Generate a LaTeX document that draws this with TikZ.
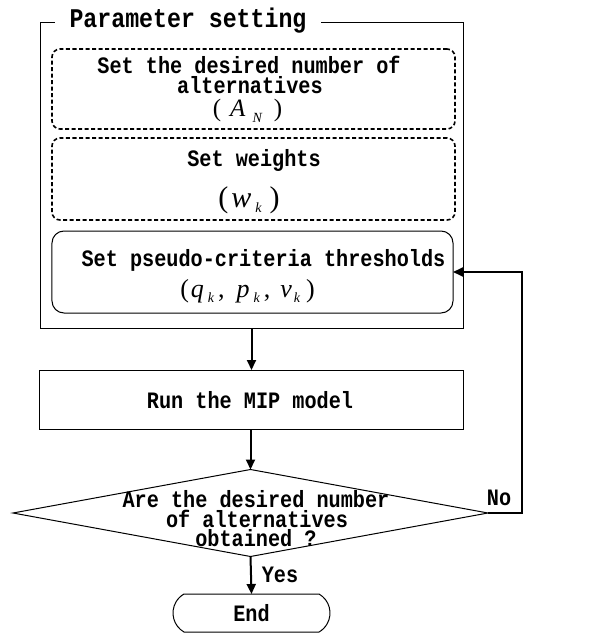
\documentclass[tikz,border=0pt]{standalone}
\usepackage{fontspec}
\usetikzlibrary{shapes.geometric,shapes.misc,arrows.meta}
\newfontfamily\lblfont{Liberation Mono}[FakeStretch=0.86]
\newfontfamily\tmsfont{Liberation Serif}
% lowered italic subscript: #1 = drop, #2 = letter
\newcommand\subi[2]{\raisebox{-#1}{\fontsize{14bp}{14bp}\selectfont\itshape #2}}
\begin{document}
\begin{tikzpicture}[x=1bp,y=-1bp,
  txt/.style={font=\lblfont\bfseries\fontsize{23.5bp}{20bp}\selectfont, inner sep=0pt, outer sep=0pt},
  ln/.style={txt, anchor=base},
  mth/.style={anchor=base, inner sep=0pt, outer sep=0pt, font=\tmsfont},
  frame/.style={draw, line width=1bp, inner sep=0pt, outer sep=0pt},
  dbox/.style={frame, line width=1.6bp, dash pattern=on 4bp off 2.5bp, rounded corners=8bp},
  sbox/.style={frame, rounded corners=12bp},
  pbox/.style={txt, draw, line width=1bp},
  decision/.style={diamond, draw, line width=1bp, inner sep=0pt, outer sep=0pt},
  terminal/.style={txt, rounded rectangle, rounded rectangle arc length=120, draw, line width=1bp},
  arr/.style={line width=2bp, -{Triangle[length=10bp,width=9bp]}},
  ]
\useasboundingbox (0,0) rectangle (593,633);

% parameter-setting group with its title
\node[frame, minimum width=422bp, minimum height=305bp] (param) at (252,175.5) {};
\node[ln, fill=white, inner xsep=15bp, inner ysep=3bp,
      font=\lblfont\bfseries\fontsize{27bp}{24bp}\selectfont] (ptitle) at (188,28) {Parameter setting};

% desired number of alternatives
\node[dbox, minimum width=403bp, minimum height=80bp] (setA) at (253.5,89) {};
\node[ln] (setA1) at (249,74) {Set the desired number of};
\node[ln] (setA2) at (250,94) {alternatives};
\node[mth] (setA3) at (247.5,117)
  {\fontsize{25bp}{25bp}\selectfont(\hspace{9bp}\textit{A}\hspace{7bp}\subi{6bp}{N}\hspace{12bp})};

% weights
\node[dbox, minimum width=403bp, minimum height=82bp] (setW) at (253.5,179) {};
\node[ln] (setW1) at (254,167) {Set weights};
\node[mth] (setW2) at (249,207)
  {\fontsize{30bp}{30bp}\selectfont(\hspace{3bp}\textit{w}\hspace{4bp}\subi{5bp}{k}\hspace{8bp})};

% pseudo-criteria thresholds
\node[sbox, minimum width=401bp, minimum height=82bp] (setT) at (252.5,272) {};
\node[ln] (setT1) at (263.5,266) {Set pseudo-criteria thresholds};
\node[mth] (setT2) at (247.5,297)
  {\fontsize{26bp}{26bp}\selectfont(\hspace{2bp}\textit{q}\hspace{4bp}\subi{5bp}{k}\hspace{4bp},\hspace{12bp}\textit{p}\hspace{4bp}\subi{5bp}{k}\hspace{4bp},\hspace{10bp}\textit{v}\hspace{2bp}\subi{5bp}{k}\hspace{6bp})};

% solver step
\node[frame, minimum width=423bp, minimum height=59bp] (run) at (251.5,399.5) {};
\node[ln] (runtext) at (250,408) {Run the MIP model};

% decision
\node[decision, minimum width=475bp, minimum height=87bp] (dec) at (250.5,513) {};
\node[ln] (dec1) at (256,507) {Are the desired number};
\node[ln] (dec2) at (257,527) {of alternatives};
\node[ln] (dec3) at (256,546) {obtained ?};

% end of the procedure
\node[terminal, minimum width=157bp, minimum height=38bp] (finish) at (251.5,613) {End};

\coordinate (loopx) at (522,0);

% connectors
\draw[arr] (run.north |- param.south) -- (run.north);
\draw[arr] (dec.north |- run.south) -- (dec.north);
\draw[arr] (dec.south) -- (finish.north);
\draw[arr] (dec.east) -- (dec.east -| loopx) |- (setT.east);

\node[ln] (nolbl) at (499,505) {No};
\node[ln] (yeslbl) at (280,582) {Yes};
\end{tikzpicture}
\end{document}
